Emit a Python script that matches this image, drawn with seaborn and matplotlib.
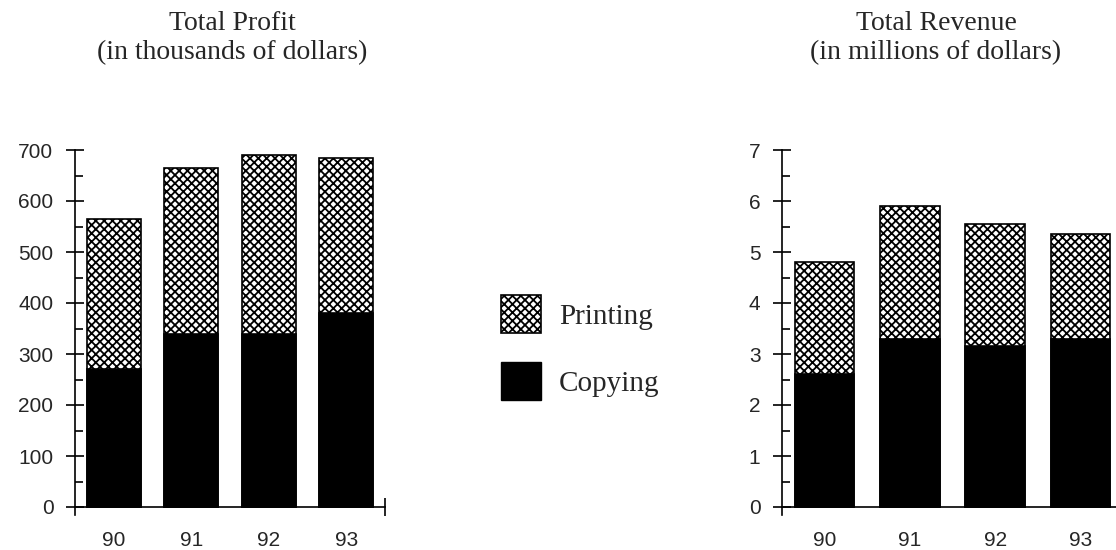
import matplotlib
matplotlib.use('Agg')
import matplotlib.pyplot as plt
import matplotlib.patches as mpatches
import numpy as np
import pandas as pd
import seaborn as sns

years = ['90', '91', '92', '93']
profit_copying = [270, 340, 340, 380]
profit_printing = [295, 325, 350, 305]
revenue_copying = [2.6, 3.3, 3.15, 3.3]
revenue_printing = [2.2, 2.6, 2.4, 2.05]

HATCH = 'xxxx'
SANS = 'Liberation Sans'
SERIF = 'Liberation Serif'


def setup():
    sns.set_theme(style='white')
    plt.rcParams['hatch.linewidth'] = 1.3
    plt.rcParams['font.family'] = [SANS, 'DejaVu Sans']
    plt.rcParams['axes.linewidth'] = 1.2


def stacked(ax, copying, printing, top, major, minor, end_tick):
    df = pd.DataFrame({'year': years,
                       'copying': copying,
                       'total': np.array(copying) + np.array(printing)})
    sns.barplot(data=df, x='year', y='total', ax=ax, color='white',
                saturation=1, width=0.7, hatch=HATCH, edgecolor='black',
                linewidth=1.2)
    sns.barplot(data=df, x='year', y='copying', ax=ax, color='black',
                saturation=1, width=0.7, edgecolor='black', linewidth=1.2)

    ax.set_xlim(-0.5, 3.5)
    # axis line runs a few pixels below zero, as in the original
    ax.set_ylim(-top * 8 / 357, top)
    ax.set_xlabel('')
    ax.set_ylabel('')
    for s in ('top', 'right'):
        ax.spines[s].set_visible(False)
    ax.spines['bottom'].set_position(('data', 0))
    ax.spines['left'].set_color('black')
    ax.spines['bottom'].set_color('black')

    ax.set_yticks(np.arange(0, top + major / 2, major))
    ax.set_yticks(np.arange(minor, top, major), minor=True)
    ax.tick_params(axis='y', which='major', direction='inout', length=13,
                   width=1.2, pad=9, labelsize=15, color='black', left=True)
    ax.tick_params(axis='y', which='minor', direction='in', length=6,
                   width=1.2, color='black', left=True)
    ax.set_xticks(range(len(years)))
    ax.set_xticklabels(years)
    ax.set_xticks(end_tick, minor=True)
    ax.tick_params(axis='x', which='major', length=0, pad=17, labelsize=15)
    ax.tick_params(axis='x', which='minor', direction='inout', length=13,
                   width=1.2, color='black', bottom=True)
    for lab in ax.get_xticklabels() + ax.get_yticklabels():
        lab.set_fontfamily(SANS)


def main():
    setup()
    fig = plt.figure(figsize=(11.16, 5.5), dpi=100)
    ax1 = fig.add_axes([75 / 1116, 35 / 550, 310 / 1116, 365 / 550])
    ax2 = fig.add_axes([782 / 1116, 35 / 550, 341 / 1116, 365 / 550])

    stacked(ax1, profit_copying, profit_printing, 700, 100, 50, [3.5])
    stacked(ax2, revenue_copying, revenue_printing, 7, 1, 0.5, [])

    fig.text(232 / 1116, 1 - 11 / 550, 'Total Profit\n(in thousands of dollars)',
             ha='center', va='top', ma='center', family=SERIF, fontsize=20,
             linespacing=1.2)
    fig.text(936 / 1116, 1 - 11 / 550, 'Total Revenue\n(in millions of dollars)',
             ha='center', va='top', ma='center', family=SERIF, fontsize=20,
             linespacing=1.2)

    handles = [mpatches.Patch(facecolor='white', edgecolor='black',
                              hatch=HATCH, linewidth=1.2, label='Printing'),
               mpatches.Patch(facecolor='black', edgecolor='black',
                              label='Copying')]
    fig.legend(handles=handles, loc='upper left',
               bbox_to_anchor=(501 / 1116, 1 - 295 / 550), frameon=False,
               prop={'family': SERIF, 'size': 21}, borderpad=0,
               borderaxespad=0, handlelength=1.38, handleheight=1.63,
               handletextpad=0.6, labelspacing=1.0)

    fig.savefig('out.png', dpi=100)
    plt.close(fig)


if __name__ == '__main__':
    main()
